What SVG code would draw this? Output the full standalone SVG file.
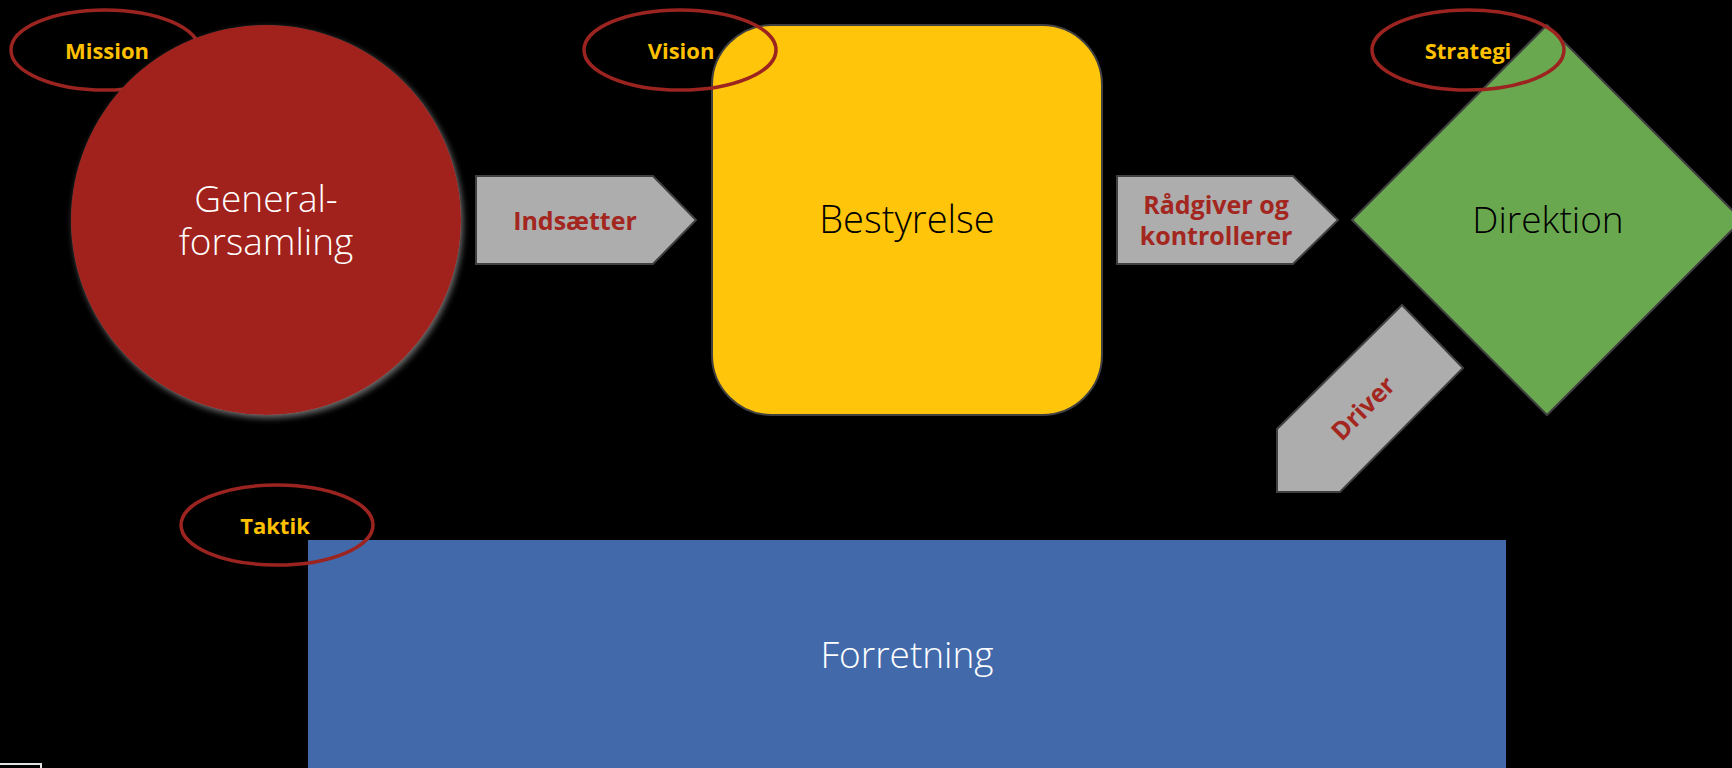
<svg xmlns="http://www.w3.org/2000/svg" width="1732" height="768" viewBox="0 0 1732 768">
  <defs>
    <filter id="glow" x="-10%" y="-10%" width="120%" height="120%">
      <feDropShadow dx="2" dy="3" stdDeviation="3" flood-color="#9a9a9a" flood-opacity="0.7"/>
    </filter>
  </defs>
  <style>
    .tag { fill: none; stroke: #9B2420; stroke-width: 3.5; }
    .tagtxt { font-family: "Open Sans", "Noto Sans", sans-serif; font-weight: 700; font-size: 22px; fill: #FFC000; text-anchor: middle; }
    .main { font-family: "Open Sans", "Noto Sans", sans-serif; font-weight: 300; font-size: 37px; text-anchor: middle; }
    .arrow { fill: #ADADAD; stroke: #404040; stroke-width: 2; stroke-linejoin: miter; }
    .arrtxt { font-family: "Open Sans", "Noto Sans", sans-serif; font-weight: 700; font-size: 25px; fill: #A3261F; text-anchor: middle; }
    .outline { stroke: #404040; stroke-width: 2; }
  </style>
  <rect x="0" y="0" width="1732" height="768" fill="#000000"/>

  <g id="mission">
    <ellipse class="tag" cx="105" cy="50" rx="94" ry="40"/>
    <text class="tagtxt" x="107" y="59">Mission</text>
  </g>

  <g id="generalforsamling">
    <circle cx="266" cy="220" r="195" fill="#A1231D" filter="url(#glow)"/>
    <text class="main" fill="#FFFFFF"><tspan x="266" y="212">General-</tspan><tspan x="266" y="255">forsamling</tspan></text>
  </g>

  <g id="bestyrelse">
    <rect class="outline" x="712" y="25" width="390" height="390" rx="60" ry="60" fill="#FFC50B"/>
    <text class="main" x="907" y="233" fill="#000000" style="font-size:38px">Bestyrelse</text>
  </g>

  <g id="vision">
    <ellipse class="tag" cx="680" cy="50" rx="96" ry="40"/>
    <text class="tagtxt" x="681" y="59">Vision</text>
  </g>

  <g id="direktion">
    <polygon class="outline" points="1547,25 1742,220 1547,415 1352,220" fill="#6AA84F"/>
    <text class="main" x="1548" y="233" fill="#000000">Direktion</text>
  </g>

  <g id="strategi">
    <ellipse class="tag" cx="1468" cy="50" rx="96" ry="40"/>
    <text class="tagtxt" x="1468" y="59">Strategi</text>
  </g>

  <g id="forretning">
    <rect x="308" y="540" width="1198" height="240" fill="#426AAB"/>
    <text class="main" x="907" y="668" fill="#FFFFFF">Forretning</text>
  </g>

  <g id="taktik">
    <ellipse class="tag" cx="277" cy="525" rx="96" ry="40"/>
    <text class="tagtxt" x="275" y="534">Taktik</text>
  </g>

  <g id="connectors">
    <g id="indsaetter">
      <polygon class="arrow" points="476,176 653,176 696,220 653,264 476,264"/>
      <text class="arrtxt" x="575" y="230">Indsætter</text>
    </g>
    <g id="raadgiver">
      <polygon class="arrow" points="1117,176 1293,176 1338,220 1293,264 1117,264"/>
      <text class="arrtxt"><tspan x="1216" y="214">Rådgiver og</tspan><tspan x="1216" y="245">kontrollerer</tspan></text>
    </g>
    <g id="driver">
      <polygon class="arrow" points="1402,305 1463,368 1340,492 1277,492 1277,429"/>
      <text class="arrtxt" x="1363" y="417" transform="rotate(-45 1363 408)">Driver</text>
    </g>
  </g>

  <g id="corner-box">
    <rect x="-2" y="764" width="43" height="10" fill="none" stroke="#E0E0E0" stroke-width="2"/>
  </g>
</svg>
